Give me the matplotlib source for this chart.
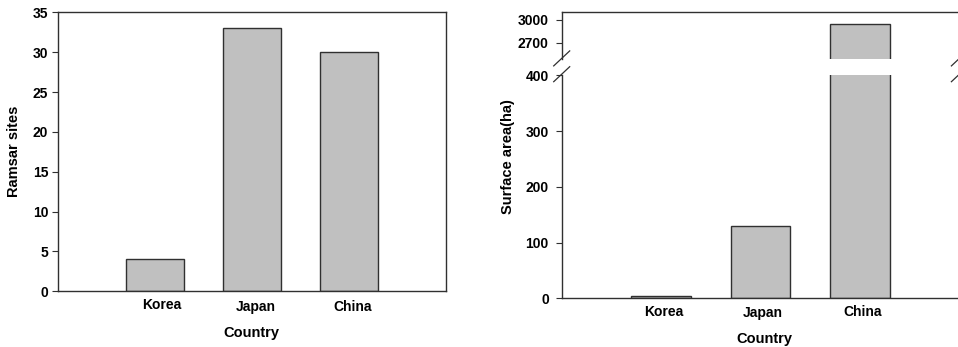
import matplotlib
matplotlib.use("Agg")
import matplotlib.pyplot as plt
from matplotlib.lines import Line2D

plt.rcParams['font.family'] = ['Liberation Sans', 'DejaVu Sans']
plt.rcParams['font.weight'] = 'bold'

countries = ["Korea", "Japan", "China"]
ramsar_sites = [4, 33, 30]
surface_area = [5, 130, 2950]

W, H = 958, 347
bar_fc = "#c0c0c0"
edge = "#303030"
fs_tick = 10
fs_lab = 10.5


def px(x0, y0, x1, y1):
    # pixel box (left, top, right, bottom) -> figure rect
    return [x0 / W, 1 - y1 / H, (x1 - x0) / W, (y1 - y0) / H]


def country_labels(ax, offsets):
    # labels under the bars, nudged a little like the original scan
    for i, (name, (dx, dy)) in enumerate(zip(countries, offsets)):
        ax.annotate(name, xy=(i, 0), xycoords=('data', 'axes fraction'),
                    xytext=(dx, -dy), textcoords='offset pixels',
                    ha='center', va='top', fontsize=fs_tick, fontweight='bold')


fig = plt.figure(figsize=(W / 100, H / 100), dpi=100)
x = range(len(countries))

# left panel
ax1 = fig.add_axes(px(57.7, 12.3, 445.7, 291.3))
ax1.bar(x, ramsar_sites, width=0.6, color=bar_fc, edgecolor=edge, linewidth=1)
ax1.set_xlim(-1, 3)
ax1.set_ylim(0, 35)
ax1.set_yticks(range(0, 36, 5))
ax1.set_xticks([])
ax1.tick_params(axis='y', length=4.3, width=0.8, labelsize=fs_tick, pad=2.5, color=edge)
for s in ax1.spines.values():
    s.set_color(edge)
    s.set_linewidth(1)
country_labels(ax1, [(7, 6.5), (4, 8.5), (4, 9)])
fig.text(251.7 / W, 1 - 325.5 / H, "Country", ha='center', va='top',
         fontsize=fs_lab, fontweight='bold')
fig.text(14 / W, 1 - 151.8 / H, "Ramsar sites", rotation=90,
         ha='center', va='center', fontsize=fs_lab, fontweight='bold')

# right panel, broken y axis
ax_lo = fig.add_axes(px(561.7, 74.7, 959.4, 298.3))
ax_hi = fig.add_axes(px(561.7, 12.3, 959.4, 59.0))
for ax in (ax_lo, ax_hi):
    ax.bar(x, surface_area, width=0.6, color=bar_fc, edgecolor=edge, linewidth=1)
    ax.set_xlim(-1, 3)
    ax.set_xticks([])
    ax.tick_params(axis='y', length=4.3, width=0.8, labelsize=fs_tick, pad=5, color=edge)
    for s in ax.spines.values():
        s.set_color(edge)
        s.set_linewidth(1)

ax_lo.set_ylim(0, 401)
ax_lo.set_yticks([0, 100, 200, 300, 400])
ax_lo.spines['top'].set_visible(False)
country_labels(ax_lo, [(3, 6.5), (2, 8), (3, 6.5)])
fig.text(764.3 / W, 1 - 331.5 / H, "Country", ha='center', va='top',
         fontsize=fs_lab, fontweight='bold')

ax_hi.set_ylim(2491, 3100)
ax_hi.set_yticks([2700, 3000])
ax_hi.spines['bottom'].set_visible(False)

fig.text(507.7 / W, 1 - 156.7 / H, "Surface area(ha)", rotation=90,
         ha='center', va='center', fontsize=fs_lab, fontweight='bold')

# break marks
for xc in (561.7, 959.4):
    for yc in (58.4, 74.2):
        fig.add_artist(Line2D([(xc - 8) / W, (xc + 8) / W],
                              [1 - (yc + 7.5) / H, 1 - (yc - 7.5) / H],
                              color=edge, lw=0.9))

fig.savefig("out.png", dpi=100)
